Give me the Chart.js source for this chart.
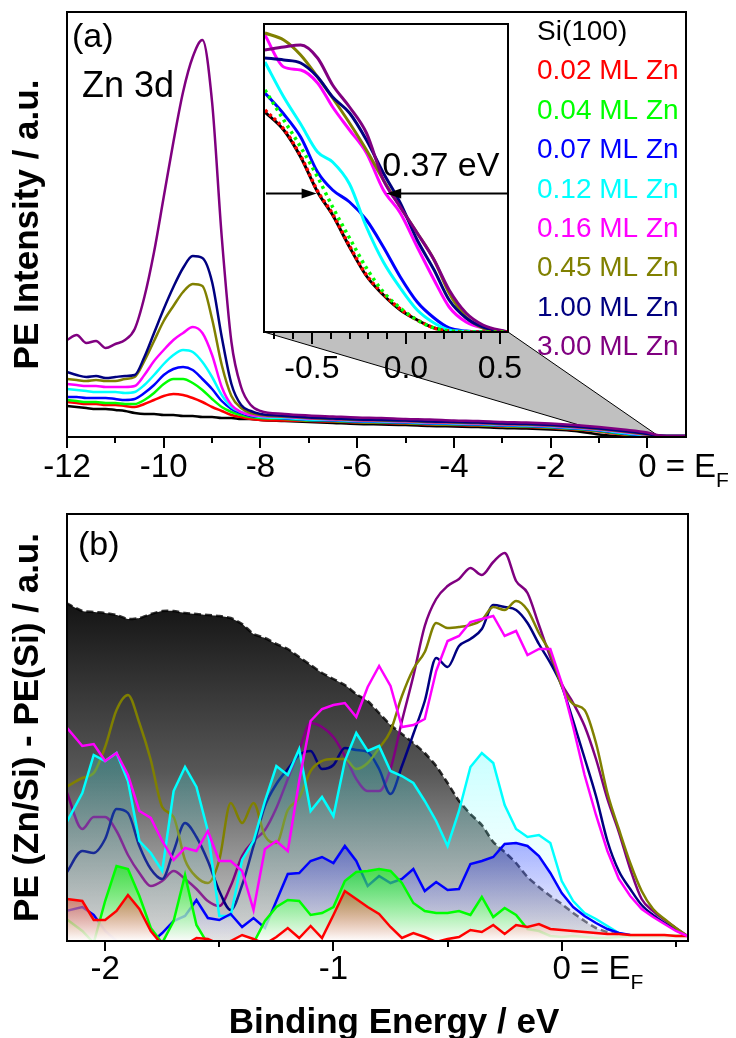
<!DOCTYPE html>
<html>
<head>
<meta charset="utf-8">
<title>Zn/Si(100) valence band photoemission</title>
<script src="https://cdn.jsdelivr.net/npm/chart.js@4.4.1/dist/chart.umd.min.js"></script>
<style>
  html, body { margin: 0; padding: 0; background: #fff; }
  #page { position: relative; width: 736px; height: 1038px; overflow: hidden; }
  #page canvas { position: absolute; }
</style>
</head>
<body>
<div id="page">
  <canvas id="wideScan" width="736" height="500" style="left:0;top:0"></canvas>
  <canvas id="diffScan" width="736" height="558" style="left:0;top:480px"></canvas>
  <canvas id="edgeZoom" width="290" height="380" style="left:250px;top:20px"></canvas>
</div>
<script>
const FONT = '"Liberation Sans", Arial, Helvetica, sans-serif';
Chart.defaults.font.family = FONT;
Chart.defaults.color = '#000';

const coverLabels = ['0.02 ML Zn', '0.04 ML Zn', '0.07 ML Zn', '0.12 ML Zn',
                     '0.16 ML Zn', '0.45 ML Zn', '1.00 ML Zn', '3.00 ML Zn'];
const coverColors = ['#ff0000', '#00ff00', '#0000ff', '#00ffff',
                     '#ff00ff', '#808000', '#000080', '#800080'];

// (a) wide valence band scan, binding energy in eV
const bindA = [-12, -11.8, -11.6, -11.4, -11.2, -11, -10.8, -10.6, -10.4, -10.2,
               -10, -9.8, -9.6, -9.4, -9.2, -9, -8.8, -8.6, -8.4, -8.2,
               -8, -7.5, -7, -6.5, -6, -5.5, -5, -4.5, -4, -3.5,
               -3, -2.5, -2, -1.5, -1, -0.5, 0, 0.2, 0.4, 0.8];
const cleanA = [31, 30, 29, 28, 28, 27, 26, 24, 23, 23, 22, 22, 21, 21, 20, 20, 19, 19, 18, 18,
                17, 16, 15, 14, 13, 12.5, 12, 11, 10.5, 10, 9, 8.5, 7.5, 6, 2.5, 0.5, 0, 0, 0, 0];
const ml002A = [35, 34, 33, 33, 32, 32, 31, 30, 33, 37, 41, 43, 42, 39, 35, 30, 26, 22, 20, 18,
                17, 16.5, 16, 15.5, 14.5, 14, 13.5, 12.5, 12, 11.5, 10.5, 10, 9, 7.5, 5.5, 2.5, 1, 1, 1, 1];
const ml004A = [37, 36, 35, 35, 34, 34, 33, 33, 37, 44, 53, 58, 58, 54, 47, 38, 30, 25, 22, 20,
                19, 18, 16.5, 16, 15, 14.5, 14, 13, 12.5, 12, 11, 10.5, 9.5, 8, 6, 3, 1, 1, 1, 1];
const ml007A = [40, 40, 39, 39, 39, 38, 37, 38, 44, 52, 62, 68, 70, 67, 58, 48, 36, 28, 24, 21,
                20, 18.5, 17, 16.5, 15.5, 15, 14.5, 13.5, 13, 12.5, 11.5, 11, 10, 8.5, 6.5, 3.5, 1.2, 1, 1, 1];
const ml012A = [48, 47, 46, 45, 45, 45, 44, 45, 52, 62, 73, 82, 87, 85, 75, 60, 42, 30, 25, 22,
                20, 19, 17.5, 17, 16, 15.5, 15, 14, 13.5, 13, 12, 11.5, 10.5, 9, 7, 4, 1.5, 1, 1, 1];
const ml016A = [53, 52, 51, 51, 50, 50, 50, 51, 62, 76, 87, 97, 104, 110, 104, 82, 50, 32, 25, 22,
                21, 20, 18.5, 17.5, 16.5, 16, 15.5, 14.5, 14, 13.5, 12.5, 12, 11, 9.5, 7.5, 5, 2, 1.2, 1, 1];
const ml045A = [58, 57, 56, 57, 56, 56, 58, 60, 76, 96, 116, 131, 145, 153, 151, 118, 72, 41, 29, 24,
                22, 20.5, 19, 18, 17, 16.5, 16, 15, 14.5, 14, 13, 12.5, 11.5, 10, 8, 5.5, 2.5, 1.5, 1, 1];
const ml100A = [65, 62, 60, 61, 59, 60, 61, 62, 80, 104, 128, 150, 169, 181, 179, 155, 100, 53, 32, 26,
                23, 21, 19.5, 18.5, 17.5, 17, 16.5, 15.5, 15, 14.5, 13.5, 13, 12, 10.5, 8.5, 6, 3, 1.5, 1, 1];
const ml300A = [97, 102, 94, 96, 89, 93, 97, 108, 140, 185, 240, 295, 345, 380, 397, 335, 200, 95, 50, 32,
                26, 23, 21.5, 20.5, 19.5, 19, 18, 17.5, 16.5, 16, 15, 14.5, 13.5, 12, 10, 7.5, 4.5, 2, 1, 1];
const majorA = [-12, -10, -8, -6, -4, -2, 0];
const minorA = [-11, -9, -7, -5, -3, -1];

// inset: Fermi edge region of the same spectra
const bindIn = [-0.75, -0.65, -0.56, -0.47, -0.39, -0.30, -0.21, -0.12, -0.03, 0.06, 0.15, 0.23, 0.32, 0.41, 0.54];
const cleanIn = [220, 202, 175, 140, 117, 85, 56, 37, 22, 12, 4, 1, 0, 0, 0];
const ml002In = [222, 203, 176, 141, 118, 86, 57, 38, 23, 12, 4, 1, 0, 0, 0];
const ml004In = [242, 212, 185, 155, 125, 94, 64, 40, 24, 12, 4, 1, 0, 0, 0];
const ml007In = [239, 218, 195, 160, 142, 130, 112, 85, 55, 30, 14, 4, 1, 0, 0];
const ml012In = [270, 235, 208, 180, 170, 148, 105, 70, 44, 22, 9, 2, 0.5, 0, 0];
const ml016In = [297, 265, 262, 249, 225, 202, 179, 142, 119, 85, 52, 25, 10, 4, 0];
const ml045In = [299, 292, 277, 255, 234, 209, 182, 152, 125, 99, 72, 39, 15, 4, 0];
const ml100In = [274, 272, 269, 255, 235, 219, 192, 159, 129, 92, 62, 32, 14, 5, 0];
const ml300In = [282, 285, 287, 274, 247, 225, 199, 152, 125, 99, 72, 42, 19, 7, 0];
const majorIn = [-0.5, 0, 0.5];
const minorIn = [-0.7, -0.6, -0.4, -0.3, -0.2, -0.1, 0.1, 0.2, 0.3, 0.4];
const gapStart = -0.475;   // leading edge of the clean surface
const gapWidth = 0.37;     // shift of the 3 ML edge
const gapLevel = 139;

// (b) difference spectra PE(Zn/Si) - PE(Si)
const bindB = [-2.17, -2.1, -2.05, -2, -1.95, -1.9, -1.85, -1.8, -1.75, -1.7,
               -1.65, -1.6, -1.55, -1.5, -1.45, -1.4, -1.35, -1.3, -1.25, -1.2,
               -1.15, -1.1, -1.05, -1, -0.95, -0.9, -0.85, -0.8, -0.75, -0.7,
               -0.65, -0.6, -0.55, -0.5, -0.45, -0.4, -0.35, -0.3, -0.25, -0.2,
               -0.15, -0.1, -0.05, 0, 0.05, 0.1, 0.15, 0.2, 0.25, 0.3,
               0.35, 0.4, 0.45, 0.5, 0.55];
const siRefB = [338, 330, 329, 328, 326, 322, 323, 327, 330, 330, 328, 327, 326, 325, 323, 317, 307, 303, 297, 292,
                284, 276, 268, 262, 256, 247, 240, 228, 216, 207, 198, 188, 175, 158, 140, 127, 116, 99, 89, 78,
                64, 54, 45, 37, 28, 20, 13, 9, 6, 4, 3, 2, 1, 0.5, 0];
const ml002B = [42, 40, 21, 21, 30, 46, 32, 10, -4, -6, -4, 3, 2, -3, 0, 6, 2, -3, 4, 13,
                3, 15, 3, 26, 50, 42, 34, 27, 14, 3, 8, 4, -1, 2, 4, 11, 9, 16, 7, 16,
                14, 17, 12, 11, 10, 9, 8, 7, 7, 6, 6, 6, 6, 5, 5];
const ml004B = [22, 10, -2, 40, 75, 72, 45, 13, -2, 20, 66, 16, -3, -8, -8, -5, -2, 20, 34, 41,
                40, 26, 28, 34, 60, 69, 70, 72, 70, 58, 38, 30, 28, 28, 30, 26, 44, 24, 33, 26,
                12, 10, 5, 4, 5, 4, 3, 3, 4, 5, 5, 5, 5, 5, 5];
const ml007B = [30, 34, 26, 10, 0, -5, -5, -2, 8, 20, 25, 41, 23, 21, 27, 14, 23, 13, 40, 67,
                68, 80, 84, 78, 95, 80, 55, 65, 58, 62, 72, 50, 59, 51, 52, 77, 80, 84, 97, 98,
                95, 85, 68, 48, 34, 25, 18, 12, 8, 6, 5, 4, 4, 3, 3];
const ml012B = [118, 148, 186, 180, 188, 160, 100, 88, 70, 150, 174, 154, 110, 25, 25, 81, 100, 140, 175, 166,
                192, 130, 144, 125, 180, 208, 190, 195, 170, 165, 158, 140, 120, 95, 130, 174, 188, 178, 136, 112,
                104, 106, 98, 60, 40, 28, 22, 15, 8, 5, 4, 3, 2, 2, 1];
const ml016B = [214, 195, 197, 180, 188, 166, 130, 123, 100, 81, 93, 90, 110, 80, 80, 70, 31, 92, 100, 90,
                160, 220, 232, 236, 238, 224, 254, 275, 255, 214, 216, 222, 270, 300, 305, 319, 322, 325, 305, 310,
                286, 292, 292, 258, 214, 166, 126, 90, 62, 45, 32, 24, 17, 10, 5];
const ml045B = [154, 163, 168, 194, 231, 246, 218, 181, 134, 124, 81, 64, 58, 81, 138, 118, 138, 105, 98, 131,
                143, 170, 180, 182, 182, 172, 178, 193, 210, 245, 272, 289, 318, 313, 314, 316, 321, 334, 331, 340,
                331, 308, 288, 255, 237, 231, 198, 148, 112, 78, 50, 32, 22, 13, 5];
const ml100B = [68, 90, 88, 102, 132, 128, 95, 72, 62, 90, 118, 104, 80, 50, 31, 56, 95, 135, 157, 172,
                186, 190, 172, 176, 193, 191, 189, 172, 147, 175, 207, 240, 283, 274, 295, 302, 312, 336, 334, 331,
                318, 297, 278, 255, 220, 183, 145, 100, 70, 52, 36, 26, 18, 11, 5];
const ml300B = [150, 112, 124, 124, 110, 86, 68, 55, 60, 70, 62, 52, 40, 35, 55, 85, 100, 111, 133, 162,
                191, 218, 214, 204, 185, 162, 150, 150, 172, 220, 265, 315, 342, 355, 362, 373, 366, 379, 388, 360,
                348, 316, 284, 257, 238, 215, 182, 142, 109, 72, 42, 30, 21, 13, 5];
const majorB = [-2, -1, 0];
const minorB = [-1.5, -0.5, 0.5];

function pts(xs, ys) {
  return xs.map((x, i) => ({ x: x, y: ys[i] }));
}

function trace(xs, ys, color, order, more) {
  return Object.assign({
    data: pts(xs, ys),
    borderColor: color,
    borderWidth: 2.5,
    pointRadius: 0,
    fill: false,
    cubicInterpolationMode: 'monotone',
    order: order
  }, more || {});
}

// vertical fade from the series colour to white, used for the filled difference curves
function fadeFill(ys, rgb, aTop, aBottom) {
  return function (c) {
    const chart = c.chart;
    const area = chart.chartArea;
    if (!area) return 'rgba(0,0,0,0)';
    const top = chart.scales.y.getPixelForValue(Math.max(...ys));
    const g = chart.ctx.createLinearGradient(0, top, 0, area.bottom);
    g.addColorStop(0, 'rgba(' + rgb + ',' + aTop + ')');
    g.addColorStop(1, 'rgba(255,255,255,' + aBottom + ')');
    return g;
  };
}

// frame, outward ticks and tick labels; "0" is followed by "= E_F"
function boxAxis(o) {
  return {
    id: 'boxAxis',
    beforeDraw(chart) {
      if (o.whiteArea) {
        const a = chart.chartArea;
        chart.ctx.save();
        chart.ctx.fillStyle = '#fff';
        chart.ctx.fillRect(a.left, a.top, a.right - a.left, a.bottom - a.top);
        chart.ctx.restore();
      }
    },
    beforeDatasetsDraw(chart) {
      if (o.under) o.under(chart, chart.ctx);
    },
    afterDraw(chart) {
      const ctx = chart.ctx;
      const a = chart.chartArea;
      const sx = chart.scales.x;
      ctx.save();
      ctx.strokeStyle = '#000';
      ctx.lineWidth = 2;
      ctx.strokeRect(a.left, a.top, a.right - a.left, a.bottom - a.top);
      ctx.beginPath();
      o.major.forEach(v => {
        const p = Math.round(sx.getPixelForValue(v));
        ctx.moveTo(p, a.bottom);
        ctx.lineTo(p, a.bottom + o.majorLen);
      });
      o.minor.forEach(v => {
        const p = Math.round(sx.getPixelForValue(v));
        ctx.moveTo(p, a.bottom);
        ctx.lineTo(p, a.bottom + o.minorLen);
      });
      ctx.stroke();

      ctx.fillStyle = '#000';
      ctx.font = o.tickFont;
      ctx.textAlign = 'center';
      ctx.textBaseline = 'middle';
      const ly = a.bottom + o.labelDy;
      o.major.forEach(v => ctx.fillText(o.fmt(v), sx.getPixelForValue(v), ly));
      if (o.fermi) {
        const x0 = sx.getPixelForValue(0);
        const half = ctx.measureText('0').width / 2;
        ctx.textAlign = 'left';
        ctx.fillText(' = E', x0 + half, ly);
        const w = ctx.measureText(' = E').width;
        ctx.font = o.subFont;
        ctx.fillText('F', x0 + half + w, ly + 13);
      }
      if (o.over) o.over(chart, ctx);
      ctx.restore();
    }
  };
}

const common = {
  responsive: false,
  animation: false,
  devicePixelRatio: 1,
  events: [],
  plugins: { legend: { display: false }, tooltip: { enabled: false } }
};

function yTitle(text, max) {
  return {
    display: true,
    min: 0,
    max: max,
    afterFit(s) { s.width = 67; },
    ticks: { display: false },
    grid: { display: false },
    border: { display: false },
    title: {
      display: true,
      text: text,
      color: '#000',
      font: { family: FONT, size: 35, weight: 'bold' },
      padding: { top: 7, bottom: 0 }
    }
  };
}

// ---- inset (drawn first so the wide scan can hook its zoom wedge to it)
const insetChart = new Chart(document.getElementById('edgeZoom'), {
  type: 'line',
  data: {
    datasets: [
      trace(bindIn, cleanIn, '#000000', 9, { borderWidth: 3 }),
      trace(bindIn, ml002In, coverColors[0], 2, { borderDash: [3, 3], borderWidth: 3.5 }),
      trace(bindIn, ml004In, coverColors[1], 1, { borderDash: [3, 4], borderWidth: 3.5 }),
      trace(bindIn, ml007In, coverColors[2], 8, { borderWidth: 3 }),
      trace(bindIn, ml012In, coverColors[3], 7, { borderWidth: 3 }),
      trace(bindIn, ml016In, coverColors[4], 6, { borderWidth: 3 }),
      trace(bindIn, ml045In, coverColors[5], 5, { borderWidth: 3 }),
      trace(bindIn, ml100In, coverColors[6], 4, { borderWidth: 3 }),
      trace(bindIn, ml300In, coverColors[7], 3, { borderWidth: 3 })
    ]
  },
  options: Object.assign({}, common, {
    layout: { autoPadding: false, padding: { left: 14, top: 4, right: 32, bottom: 68 } },
    scales: {
      x: { type: 'linear', display: false, min: -0.755, max: 0.543 },
      y: { display: false, min: 0, max: 308 }
    }
  }),
  plugins: [boxAxis({
    whiteArea: true,
    major: majorIn, minor: minorIn, majorLen: 12, minorLen: 7,
    tickFont: '32px ' + FONT, labelDy: 37,
    fmt: v => v.toFixed(1),
    over(chart, ctx) {
      const a = chart.chartArea;
      const sx = chart.scales.x;
      const y = Math.round(chart.scales.y.getPixelForValue(gapLevel)) + 0.5;
      const xl = sx.getPixelForValue(gapStart);
      const xr = sx.getPixelForValue(gapStart + gapWidth);
      ctx.strokeStyle = '#000';
      ctx.fillStyle = '#000';
      ctx.lineWidth = 2;
      ctx.beginPath();
      ctx.moveTo(a.left + 2, y); ctx.lineTo(xl - 12, y);
      ctx.moveTo(a.right, y); ctx.lineTo(xr + 12, y);
      ctx.stroke();
      [[xl, 1], [xr, -1]].forEach(([tip, dir]) => {
        ctx.beginPath();
        ctx.moveTo(tip, y);
        ctx.lineTo(tip - dir * 15, y - 5);
        ctx.lineTo(tip - dir * 15, y + 5);
        ctx.closePath();
        ctx.fill();
      });
      ctx.font = '34px ' + FONT;
      ctx.textAlign = 'left';
      ctx.textBaseline = 'alphabetic';
      ctx.fillText(gapWidth.toFixed(2) + ' eV', xr - 4, y - 18);
    }
  })]
});

// ---- (a) wide scan
const insetCanvas = document.getElementById('edgeZoom');
const zoomLo = -0.85, zoomHi = 0.2;

new Chart(document.getElementById('wideScan'), {
  type: 'line',
  data: {
    datasets: [
      trace(bindA, cleanA, '#000000', 9),
      trace(bindA, ml002A, coverColors[0], 8),
      trace(bindA, ml004A, coverColors[1], 7),
      trace(bindA, ml007A, coverColors[2], 6),
      trace(bindA, ml012A, coverColors[3], 5),
      trace(bindA, ml016A, coverColors[4], 4),
      trace(bindA, ml045A, coverColors[5], 3),
      trace(bindA, ml100A, coverColors[6], 2),
      trace(bindA, ml300A, coverColors[7], 1)
    ]
  },
  options: Object.assign({}, common, {
    layout: { autoPadding: false, padding: { left: 0, top: 12, right: 50, bottom: 63 } },
    scales: {
      x: { type: 'linear', display: false, min: -12, max: 0.8 },
      y: yTitle('PE Intensity / a.u.', 425)
    }
  }),
  plugins: [boxAxis({
    major: majorA, minor: minorA, majorLen: 11, minorLen: 6,
    tickFont: '33px ' + FONT, subFont: '21px ' + FONT, labelDy: 31, fermi: true,
    fmt: v => String(v),
    under(chart, ctx) {
      // wedge linking the Fermi edge to the inset
      const ia = insetChart.chartArea;
      const ox = parseFloat(insetCanvas.style.left), oy = parseFloat(insetCanvas.style.top);
      const sx = chart.scales.x, sy = chart.scales.y;
      const bl = [ox + ia.left, oy + ia.bottom], br = [ox + ia.right, oy + ia.bottom];
      const pl = [sx.getPixelForValue(zoomLo), sy.getPixelForValue(4)];
      const pr = [sx.getPixelForValue(zoomHi), sy.getPixelForValue(2)];
      ctx.save();
      ctx.fillStyle = '#c0c0c0';
      ctx.beginPath();
      ctx.moveTo(bl[0], bl[1]); ctx.lineTo(br[0], br[1]);
      ctx.lineTo(pr[0], pr[1]); ctx.lineTo(pl[0], pl[1]);
      ctx.closePath();
      ctx.fill();
      ctx.strokeStyle = '#000';
      ctx.lineWidth = 1;
      ctx.beginPath();
      ctx.moveTo(bl[0], bl[1]); ctx.lineTo(pl[0], pl[1]);
      ctx.moveTo(br[0], br[1]); ctx.lineTo(pr[0], pr[1]);
      ctx.stroke();
      ctx.restore();
    },
    over(chart, ctx) {
      ctx.textAlign = 'left';
      ctx.textBaseline = 'alphabetic';
      ctx.fillStyle = '#000';
      ctx.font = '34px ' + FONT;
      ctx.fillText('(a)', 72, 47);
      ctx.font = '36px ' + FONT;
      ctx.fillText('Zn 3d', 82, 97);
      ctx.font = '28px ' + FONT;
      ctx.fillText('Si(100)', 537, 40);
      coverLabels.forEach((t, i) => {
        ctx.fillStyle = coverColors[i];
        ctx.fillText(t, 537, 40 + (i + 1) * 39.4);
      });
    }
  })]
});

// ---- (b) difference spectra
new Chart(document.getElementById('diffScan'), {
  type: 'line',
  data: {
    datasets: [
      trace(bindB, siRefB, 'rgba(0,0,0,0.8)', 9, {
        borderDash: [7, 4], borderWidth: 2.5, fill: 'origin', tension: 0.2,
        cubicInterpolationMode: 'default',
        backgroundColor(c) {
          const chart = c.chart;
          const area = chart.chartArea;
          if (!area) return 'rgba(0,0,0,0)';
          const top = chart.scales.y.getPixelForValue(Math.max(...siRefB));
          const g = chart.ctx.createLinearGradient(0, top, 0, area.bottom);
          g.addColorStop(0, '#141414');
          g.addColorStop(0.5, '#575757');
          g.addColorStop(1, '#d4d4d4');
          return g;
        }
      }),
      trace(bindB, ml300B, coverColors[7], 8),
      trace(bindB, ml100B, coverColors[6], 7),
      trace(bindB, ml045B, coverColors[5], 6),
      trace(bindB, ml012B, coverColors[3], 5, {
        tension: 0, cubicInterpolationMode: 'default', fill: 'origin',
        backgroundColor: fadeFill(ml012B, '0,255,255', 0.25, 0.1)
      }),
      trace(bindB, ml007B, coverColors[2], 4, {
        tension: 0, cubicInterpolationMode: 'default', fill: 'origin',
        backgroundColor: fadeFill(ml007B, '0,0,255', 0.3, 0.3)
      }),
      trace(bindB, ml004B, coverColors[1], 3, {
        tension: 0, cubicInterpolationMode: 'default', fill: 'origin',
        backgroundColor: fadeFill(ml004B, '0,255,0', 0.55, 0.85)
      }),
      trace(bindB, ml002B, coverColors[0], 2, {
        tension: 0, cubicInterpolationMode: 'default', fill: 'origin',
        backgroundColor: fadeFill(ml002B, '210,60,30', 0.5, 0.9)
      }),
      trace(bindB, ml016B, coverColors[4], 1, { tension: 0, cubicInterpolationMode: 'default' })
    ]
  },
  options: Object.assign({}, common, {
    layout: { autoPadding: false, padding: { left: 0, top: 34, right: 48, bottom: 97 } },
    datasets: { line: { clip: 0 } },
    scales: {
      x: { type: 'linear', display: false, min: -2.167, max: 0.553 },
      y: yTitle('PE (Zn/Si) - PE(Si) / a.u.', 427)
    }
  }),
  plugins: [boxAxis({
    major: majorB, minor: minorB, majorLen: 10, minorLen: 6,
    tickFont: '33px ' + FONT, subFont: '21px ' + FONT, labelDy: 29, fermi: true,
    fmt: v => String(v),
    over(chart, ctx) {
      ctx.textAlign = 'left';
      ctx.textBaseline = 'alphabetic';
      ctx.fillStyle = '#000';
      ctx.font = '34px ' + FONT;
      ctx.fillText('(b)', 78, 75);
      ctx.textAlign = 'center';
      ctx.font = 'bold 35px ' + FONT;
      ctx.fillText('Binding Energy / eV', 394, 553);
    }
  })]
});
</script>
</body>
</html>
